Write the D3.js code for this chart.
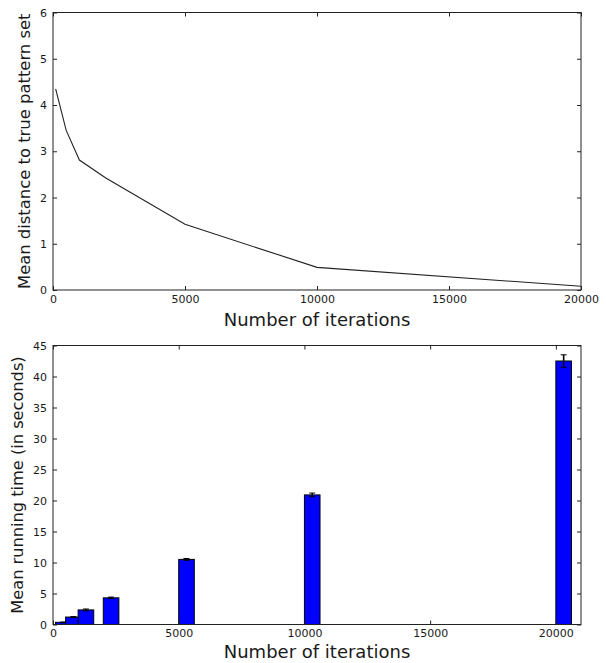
<!DOCTYPE html>
<html>
<head>
<meta charset="utf-8">
<script src="https://cdn.jsdelivr.net/npm/d3@7"></script>
<style>
  body { margin: 0; background: #fff; }
  svg text { font-family: "DejaVu Sans", sans-serif; fill: #1a1a1a; }
</style>
</head>
<body>
<div id="graph"></div>
<script>
// iterations used in both panels
var iterations = [100, 500, 1000, 2000, 5000, 10000, 20000];

// top panel: mean distance to true pattern set
var meanDistance = [4.35, 3.45, 2.81, 2.42, 1.42, 0.49, 0.08];

// bottom panel: mean running time (s) and its error
var meanTime = [0.35, 1.2, 2.35, 4.3, 10.5, 20.9, 42.5];
var timeErr  = [0.05, 0.08, 0.15, 0.12, 0.15, 0.3, 1.0];

var xTicks      = [0, 5000, 10000, 15000, 20000];
var yTicksTop   = [0, 1, 2, 3, 4, 5, 6];
var yTicksBot   = [0, 5, 10, 15, 20, 25, 30, 35, 40, 45];

var W = 606, H = 663;
var barWidth = 620; // in iteration units

var vis = d3.select("#graph")
  .append("svg")
  .attr("width", W).attr("height", H);

// draws the box + inside ticks on all four sides
function frame(g, x, y, xt, yt) {
  var x0 = x.range()[0], x1 = x.range()[1];
  var y0 = y.range()[0], y1 = y.range()[1];

  g.append("g").attr("transform", "translate(0," + y0 + ")")
    .call(d3.axisBottom(x).tickValues(xt).tickSize(-4).tickPadding(5).tickFormat(d3.format("d")));
  g.append("g").attr("transform", "translate(0," + y1 + ")")
    .call(d3.axisTop(x).tickValues(xt).tickSize(-4).tickFormat(""));
  g.append("g").attr("transform", "translate(" + x0 + ",0)")
    .call(d3.axisLeft(y).tickValues(yt).tickSize(-4).tickPadding(6).tickFormat(d3.format("d")));
  g.append("g").attr("transform", "translate(" + x1 + ",0)")
    .call(d3.axisRight(y).tickValues(yt).tickSize(-4).tickFormat(""));

  g.selectAll(".domain").remove();
  g.selectAll(".tick line").attr("stroke", "#222");
  g.selectAll(".tick text").attr("font-size", "11px").attr("fill", "#1a1a1a")
    .attr("font-family", "DejaVu Sans, sans-serif");

  g.append("rect")
    .attr("x", x0).attr("y", y1)
    .attr("width", x1 - x0).attr("height", y0 - y1)
    .attr("fill", "none").attr("stroke", "#222").attr("stroke-width", 1);
}

function labels(g, x, y, xl, yl, xly, ylx, yfs) {
  var xm = (x.range()[0] + x.range()[1]) / 2;
  var ym = (y.range()[0] + y.range()[1]) / 2;
  g.append("text")
    .attr("x", xm).attr("y", y.range()[0] + xly)
    .attr("text-anchor", "middle").attr("font-size", "18px")
    .text(xl);
  g.append("text")
    .attr("transform", "translate(" + ylx + "," + ym + ") rotate(-90)")
    .attr("text-anchor", "middle").attr("font-size", yfs + "px")
    .text(yl);
}

// ---- top panel ----
var xTop = d3.scaleLinear().domain([0, 20000]).range([53, 581]);
var yTop = d3.scaleLinear().domain([0, 6]).range([290, 12.5]);

var topPanel = vis.append("g");

var pts = iterations.map(function(d, i) { return [d, meanDistance[i]]; });
topPanel.append("path")
  .datum(pts)
  .attr("fill", "none")
  .attr("stroke", "#222")
  .attr("stroke-width", 1.1)
  .attr("d", d3.line().x(function(d) { return xTop(d[0]); }).y(function(d) { return yTop(d[1]); }));

frame(topPanel, xTop, yTop, xTicks, yTicksTop);
labels(topPanel, xTop, yTop, "Number of iterations", "Mean distance to true pattern set", 36, 29.5, 16.4);

// ---- bottom panel ----
var xBot = d3.scaleLinear().domain([0, 21000]).range([53, 581]);
var yBot = d3.scaleLinear().domain([0, 45]).range([624.5, 345.5]);

var botPanel = vis.append("g");

botPanel.selectAll("rect.bar")
  .data(iterations)
  .enter()
  .append("rect")
  .attr("class", "bar")
  .attr("x", function(d) { return xBot(d); })
  .attr("width", function(d) { return xBot(d + barWidth) - xBot(d); })
  .attr("y", function(d, i) { return yBot(meanTime[i]); })
  .attr("height", function(d, i) { return yBot(0) - yBot(meanTime[i]); })
  .attr("fill", "#0000ff")
  .attr("stroke", "#000")
  .attr("stroke-width", 1);

var eb = botPanel.selectAll("g.err")
  .data(iterations)
  .enter()
  .append("g").attr("class", "err");

eb.append("line")
  .attr("x1", function(d) { return xBot(d + barWidth / 2); })
  .attr("x2", function(d) { return xBot(d + barWidth / 2); })
  .attr("y1", function(d, i) { return yBot(meanTime[i] - timeErr[i]); })
  .attr("y2", function(d, i) { return yBot(meanTime[i] + timeErr[i]); })
  .attr("stroke", "#000").attr("stroke-width", 1.6);

[-1, 1].forEach(function(s) {
  eb.append("line")
    .attr("x1", function(d) { return xBot(d + barWidth / 2) - 3; })
    .attr("x2", function(d) { return xBot(d + barWidth / 2) + 3; })
    .attr("y1", function(d, i) { return yBot(meanTime[i] + s * timeErr[i]); })
    .attr("y2", function(d, i) { return yBot(meanTime[i] + s * timeErr[i]); })
    .attr("stroke", "#000").attr("stroke-width", 1);
});

frame(botPanel, xBot, yBot, xTicks, yTicksBot);
labels(botPanel, xBot, yBot, "Number of iterations", "Mean running time (in seconds)", 33, 22.5, 16.2);
</script>
</body>
</html>
